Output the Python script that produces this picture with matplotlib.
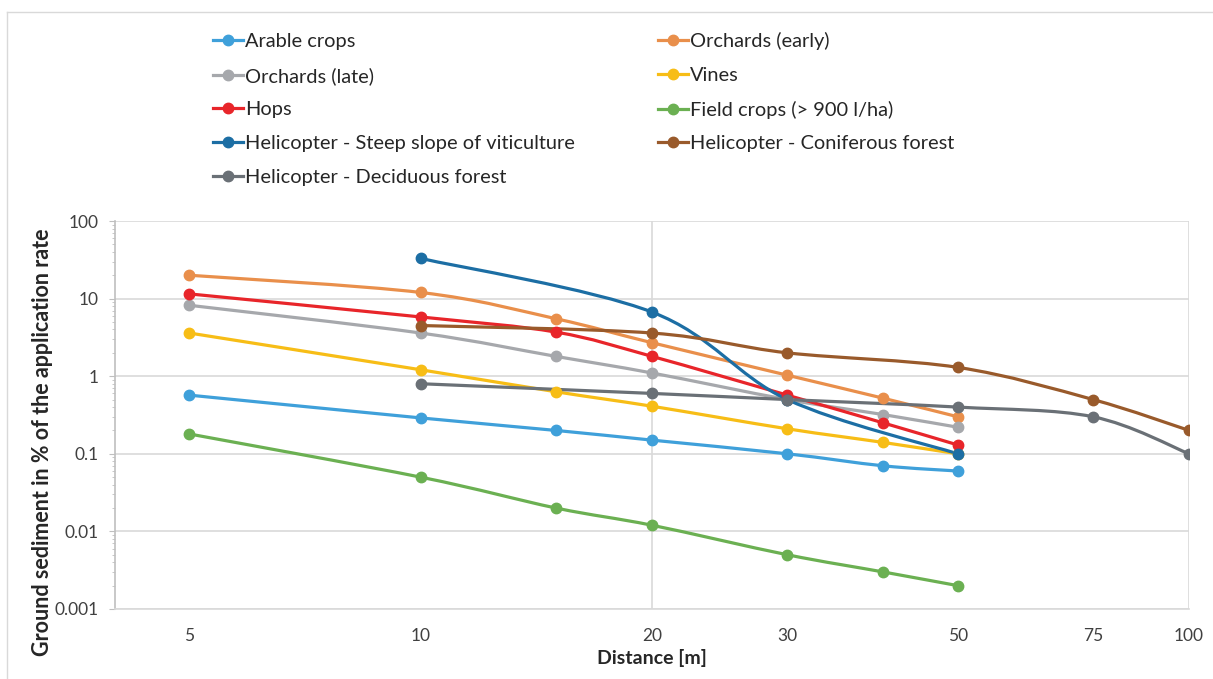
import numpy as np
import matplotlib.pyplot as plt
from matplotlib.path import Path
from matplotlib.patches import PathPatch
from matplotlib.lines import Line2D
from matplotlib.ticker import FixedLocator, LogLocator, NullFormatter, NullLocator

plt.rcParams['font.family'] = ['Lato', 'DejaVu Sans']

# values
distance = [5, 10, 15, 20, 30, 40, 50]
arable_crops = [0.57, 0.29, 0.2, 0.15, 0.1, 0.07, 0.06]
orchards_early = [20, 12, 5.5, 2.7, 1.03, 0.52, 0.3]
orchards_late = [8.2, 3.6, 1.8, 1.1, 0.5, 0.32, 0.22]
vines = [3.6, 1.21, 0.63, 0.41, 0.21, 0.14, 0.1]
hops = [11.5, 5.8, 3.7, 1.8, 0.57, 0.25, 0.13]
field_crops = [0.18, 0.05, 0.02, 0.012, 0.005, 0.003, 0.002]

heli_distance = [10, 20, 30, 50]
heli_steep = [33, 6.7, 0.5, 0.1]

forest_distance = [10, 20, 30, 50, 75, 100]
heli_coniferous = [4.5, 3.6, 2.0, 1.3, 0.5, 0.2]
heli_deciduous = [0.8, 0.6, 0.5, 0.4, 0.3, 0.1]

x_ticks = [5, 10, 20, 30, 50, 75, 100]
y_ticks = [0.001, 0.01, 0.1, 1, 10, 100]
y_labels = ['0.001', '0.01', '0.1', '1', '10', '100']

series = [
    ('Arable crops', distance, arable_crops, '#3FA0DA'),
    ('Orchards (early)', distance, orchards_early, '#E98F4B'),
    ('Orchards (late)', distance, orchards_late, '#A6A8AC'),
    ('Vines', distance, vines, '#F7BD16'),
    ('Hops', distance, hops, '#E8252A'),
    ('Field crops (> 900 l/ha)', distance, field_crops, '#6BB052'),
    ('Helicopter - Steep slope of viticulture', heli_distance, heli_steep, '#1C6EA4'),
    ('Helicopter - Coniferous forest', forest_distance, heli_coniferous, '#995A2B'),
    ('Helicopter - Deciduous forest', forest_distance, heli_deciduous, '#6A7076'),
]


def smooth_path(xs, ys):
    # Excel-style smoothed line: Catmull-Rom bezier in log-log space
    pts = np.column_stack([np.log10(xs), np.log10(ys)])
    n = len(pts)
    verts = [pts[0]]
    codes = [Path.MOVETO]
    for i in range(n - 1):
        p0 = pts[max(i - 1, 0)]
        p1 = pts[i]
        p2 = pts[i + 1]
        p3 = pts[min(i + 2, n - 1)]
        verts += [p1 + (p2 - p0) / 6, p2 - (p3 - p1) / 6, p2]
        codes += [Path.CURVE4] * 3
    return Path(10 ** np.array(verts), codes)


fig = plt.figure(figsize=(12.13, 6.79), dpi=100)
ax = fig.add_axes([0.0948, 0.1031, 0.8855, 0.5714])

ax.set_xscale('log')
ax.set_yscale('log')
ax.set_xlim(4, 100)
ax.set_ylim(0.001, 100)

for name, xs, ys, color in series:
    ax.add_patch(PathPatch(smooth_path(xs, ys), fill=False, edgecolor=color,
                           linewidth=2.3, capstyle='round', joinstyle='round', zorder=3))
    ax.plot(xs, ys, 'o', color=color, markersize=7.5, zorder=4)

grid_color = '#D9D9D9'
ax.yaxis.set_major_locator(FixedLocator(y_ticks))
ax.yaxis.set_minor_locator(LogLocator(base=10, subs=np.arange(2, 10)))
ax.yaxis.set_minor_formatter(NullFormatter())
ax.set_yticklabels(y_labels)
ax.xaxis.set_major_locator(FixedLocator(x_ticks))
ax.xaxis.set_minor_locator(NullLocator())
ax.set_xticklabels([str(t) for t in x_ticks])

ax.grid(axis='y', which='major', color=grid_color, linewidth=1.2)
for gx in [20, 100]:
    ax.axvline(gx, color=grid_color, linewidth=1.2, zorder=1)
ax.set_axisbelow(True)

for side in ['top', 'right']:
    ax.spines[side].set_visible(False)
ax.spines['left'].set_color('#BFBFBF')
ax.spines['bottom'].set_color(grid_color)
ax.spines['left'].set_linewidth(1.2)
ax.spines['bottom'].set_linewidth(1.2)

ax.tick_params(axis='y', which='major', length=4, color='#BFBFBF', labelsize=12.5,
               labelcolor='#404040', pad=8)
ax.tick_params(axis='y', which='minor', length=2.5, color='#BFBFBF')
ax.tick_params(axis='x', length=0, labelsize=12.5, labelcolor='#404040', pad=14)

ax.set_xlabel('Distance [m]', fontsize=14, fontweight='bold', color='#262626', labelpad=3)
ax.set_ylabel('Ground sediment in % of the application rate', fontsize=15.5,
              fontweight='bold', color='#262626')
ax.yaxis.set_label_coords(-0.058, 0.43)

# legend filled row by row like the original
order = [0, 2, 4, 6, 8, 1, 3, 5, 7]
handles = [Line2D([], [], color=series[i][3], linewidth=2.3, marker='o', markersize=7.5)
           for i in order]
labels = [series[i][0] for i in order]
fig.legend(handles, labels, ncol=2, loc='upper left', bbox_to_anchor=(0.1756, 0.953),
           frameon=False, fontsize=14.4, handlelength=1.5, handletextpad=0.1,
           columnspacing=4.15, labelspacing=0.84, borderpad=0, borderaxespad=0,
           labelcolor='#262626')

# chart area border
fig.add_artist(Line2D([7 / 1213, 1], [1 - 12 / 679, 1 - 12 / 679], color='#D9D9D9', linewidth=1))
fig.add_artist(Line2D([7 / 1213, 7 / 1213], [0, 1 - 12 / 679], color='#D9D9D9', linewidth=1))

fig.savefig('out.png', dpi=100)
